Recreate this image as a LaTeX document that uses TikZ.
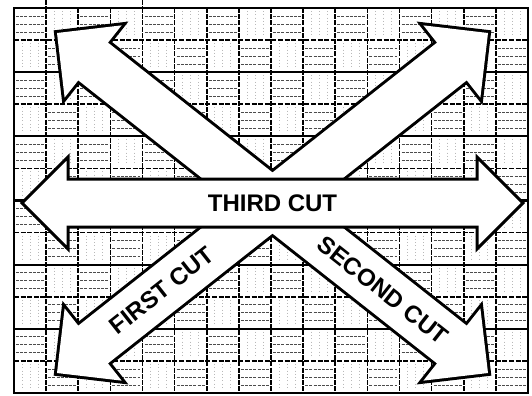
\documentclass[tikz,border=0pt]{standalone}
\usepackage{fontspec}
\setmainfont{Liberation Sans}
\usepackage{tikz}
\usetikzlibrary{calc}

% double-headed cut arrow, half length #1 (shaft 48, head 92 wide)
\newcommand{\cutshape}[1]{%
  (-#1,0) -- (-#1+46,-46) -- (-#1+46,-24) -- (#1-46,-24) -- (#1-46,-46)
  -- (#1,0) -- (#1-46,46) -- (#1-46,24) -- (-#1+46,24) -- (-#1+46,46) -- cycle}

\begin{document}
\begin{tikzpicture}[
  x=1bp, y=-1bp,
  hatch/.style={black!70, line width=0.8bp, dash pattern=on 3bp off 1.2bp},
  speck/.style={gray!55, line width=0.7bp, dash pattern=on 0.8bp off 2.5bp},
  colline/.style={black, line width=1.6bp, dash pattern=on 5bp off 1.2bp},
  halfline/.style={black, line width=1.6bp, dash pattern=on 5bp off 1.6bp},
  majorline/.style={black, line width=2.2bp},
  matbox/.style={black, line width=2.8bp},
  outline/.style={line width=3bp, line join=miter},
  cuttext/.style={font=\bfseries\fontsize{24bp}{27bp}\selectfont, inner sep=0pt},
]
  \path[use as bounding box, fill=white] (0,0) rectangle (532,395);
  \coordinate (c) at (272.5,203);

  % ---------- cutting mat ----------
  \foreach \c in {0,...,15}{
    \foreach \r in {0,...,11}{
      \pgfmathtruncatemacro{\odd}{mod(\c+\r,2)}
      \ifnum\odd=0
        \foreach \k in {8,16,24}
          \draw[hatch] (14+\c*32.125+2, 8+\r*32.083+\k) -- ++(28,0);
      \else
        \foreach \k in {8,16,24}
          \draw[speck] (14+\c*32.125+\k, 8+\r*32.083+3) -- ++(0,26);
      \fi
    }
  }
  \foreach \c in {1,...,15}
    \draw[colline] (14+\c*32.125, 8) -- (14+\c*32.125, 393);
  \foreach \r in {1,3,...,11}
    \draw[halfline] (14, 8+\r*32.083) -- (528, 8+\r*32.083);
  \foreach \r in {2,4,...,10}
    \draw[majorline] (14, 8+\r*32.083) -- (528, 8+\r*32.083);
  \draw[colline] (46.1,0) -- (46.1,8);
  \draw[colline] (142.4,0) -- (142.4,8);
  \draw[matbox] (14,8) rectangle (528,393);

  % ---------- first and second cut (one X) ----------
  \begin{scope}[shift={(c)}]
    \draw[line width=6bp, rotate=-38.27] \cutshape{274.5};
    \draw[line width=6bp, rotate=38.27] \cutshape{274.5};
    \fill[white, rotate=-38.27] \cutshape{274.5};
    \fill[white, rotate=38.27] \cutshape{274.5};
    % third cut on top
    \draw[outline, fill=white] \cutshape{250.5};
  \end{scope}

  % ---------- labels ----------
  \node[cuttext] (third) at (c) {THIRD CUT};
  \node[cuttext, rotate=38.27] (first) at ($(c)+(141.73:141)$) {FIRST CUT};
  \node[cuttext, rotate=-38.27] (second) at ($(c)+(38.27:141)$) {SECOND CUT};
\end{tikzpicture}
\end{document}
